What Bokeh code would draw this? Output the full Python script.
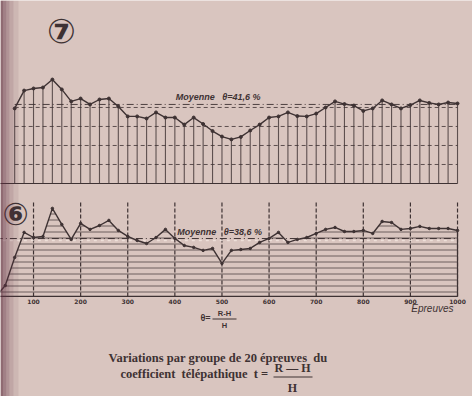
from bokeh.plotting import figure
from bokeh.models import Range1d, Label, BoxAnnotation
from bokeh.core.properties import value
from bokeh.embed import file_html
from bokeh.resources import INLINE

# ---------------- data ----------------
# Graph 7 : coefficient (%) per group of 20 trials
trials7 = list(range(60, 1001, 20))
theta7 = [39.5, 48.9, 50.0, 50.5, 54.7, 49.5, 43.2, 44.7, 41.6, 44.2, 44.7, 40.5,
          35.3, 35.3, 34.2, 37.4, 34.7, 34.7, 31.0, 34.7, 31.3, 27.6, 24.7, 23.2,
          24.5, 27.9, 31.0, 34.7, 35.3, 37.4, 35.5, 35.3, 36.8, 40.0, 43.2, 41.8,
          41.0, 38.2, 39.5, 43.7, 41.6, 39.5, 41.3, 43.7, 42.4, 41.6, 42.6, 42.1]
mean7 = 41.6
grid7 = [10, 20, 30, 40]

# Graph 6
trials6 = list(range(20, 1001, 20))
theta6 = [0.0, 7.3, 26.0, 42.7, 39.3, 40.0, 58.7, 48.0, 38.0, 48.7,
          44.7, 47.3, 50.7, 44.0, 40.0, 37.3, 35.3, 39.3, 44.7, 38.7,
          34.0, 32.7, 30.7, 32.0, 22.0, 30.7, 31.3, 32.0, 36.0, 38.7,
          42.7, 36.0, 38.0, 39.3, 42.0, 44.7, 46.0, 43.3, 43.3, 44.0,
          42.0, 50.0, 49.3, 44.7, 45.3, 46.7, 45.3, 45.3, 45.3, 44.0]
mean6 = 38.6
ticks6 = [100, 200, 300, 400, 500, 600, 700, 800, 900, 1000]
tick_labels6 = ["100", "200", "300", "400", "500", "600", "700", "800", "900", "1000"]
vline_top6 = 64

BG = "#d9c5bf"
INK = "#3e3233"
NB = "\u00a0"

p = figure(width=472, height=396, x_range=Range1d(29.9, 1031.8),
           y_range=Range1d(-112.1, 96.3), x_axis_type=None, y_axis_type=None,
           min_border=0, toolbar_location=None, output_backend="svg",
           background_fill_color=BG, border_fill_color=BG, outline_line_color=None)
p.extra_y_ranges = {"p6": Range1d(-66.7, 197.3)}
p.grid.visible = False

def mean_text(m):
    return "Moyenne" + NB * 3 + "θ=" + f"{m:.1f}".replace(".", ",") + NB + "%"

# ---------- graph 7 ----------
p.segment(x0=trials7, y0=0, x1=trials7, y1=theta7, line_color=INK, line_width=1.1, line_alpha=0.8)
p.segment(x0=[trials7[0]] * len(grid7), y0=grid7, x1=[trials7[-1]] * len(grid7), y1=grid7,
          line_color=INK, line_width=1, line_dash="4 3", line_alpha=0.8)
p.segment(x0=[trials6[0]], y0=[0], x1=[trials7[-1]], y1=[0], line_color=INK, line_width=1.2)
p.segment(x0=[trials7[0]], y0=[mean7], x1=[trials7[-1]], y1=[mean7], line_color=INK,
          line_width=1, line_dash="7 3 1 3", line_alpha=0.9)
p.line(trials7, theta7, line_color=INK, line_width=1.4)
p.scatter(trials7, theta7, size=3, color=INK)
p.text(x=[402], y=[mean7], text=[mean_text(mean7)],
       y_offset=-2, text_baseline="bottom", text_font=value("Liberation Sans"),
       text_font_style="bold italic", text_font_size="9px", text_color=INK)

# ---------- graph 6 ----------
p.varea(x=trials6, y1=[0] * len(trials6), y2=theta6, y_range_name="p6", fill_alpha=0,
        hatch_pattern="horizontal_line", hatch_scale=6, hatch_weight=1,
        hatch_color=INK, hatch_alpha=0.7)
p.segment(x0=ticks6, y0=0, x1=ticks6, y1=vline_top6, y_range_name="p6", line_color=INK,
          line_width=1.2, line_dash="4 2")
p.segment(x0=[trials6[-1]], y0=[0], x1=[trials6[-1]], y1=[theta6[-1]], y_range_name="p6",
          line_color=INK, line_width=1.2)
p.segment(x0=[trials6[0]], y0=[0], x1=[trials6[-1]], y1=[0], y_range_name="p6",
          line_color=INK, line_width=1.2)
p.segment(x0=[trials6[0]], y0=[mean6], x1=[trials6[-1]], y1=[mean6], y_range_name="p6",
          line_color=INK, line_width=1, line_dash="7 3 1 3")
p.segment(x0=[trials6[0]], y0=[mean6 - 1.3], x1=[trials6[-1]], y1=[mean6 - 1.3], y_range_name="p6",
          line_color="#f2e6e0", line_width=1.5, line_dash="3 4", line_alpha=0.8)
p.line(trials6, theta6, y_range_name="p6", line_color=INK, line_width=1.4)
p.scatter(trials6, theta6, y_range_name="p6", size=2.5, color=INK)
p.text(x=[405], y=[mean6], y_range_name="p6", text=[mean_text(mean6)],
       y_offset=-2, text_baseline="bottom", text_font=value("Liberation Sans"),
       text_font_style="bold italic", text_font_size="9px", text_color=INK)
p.text(x=ticks6, y=[0] * len(ticks6), text=tick_labels6, y_range_name="p6", y_offset=3,
       text_align="center", text_baseline="top", text_font=value("DejaVu Sans"),
       text_font_style="bold", text_font_size="6px", text_color=INK)
p.text(x=[trials6[-1]], y=[0], text=["Epreuves"], y_range_name="p6", y_offset=7, x_offset=-4,
       text_align="right", text_baseline="top", text_font=value("Liberation Sans"),
       text_font_style="italic", text_font_size="10px", text_color=INK)

# ---------- circled graph numbers ----------
for txt, sx, sy, fs in [("⑦", 61, 366, "34px"), ("⑥", 15, 183, "31px")]:
    p.add_layout(Label(x=sx, y=sy, x_units="screen", y_units="screen", text=txt,
                       text_align="center", text_baseline="middle", text_font="DejaVu Sans",
                       text_font_style="bold", text_font_size=fs, text_color=INK))

# ---------- formula under graph 6 ----------
def lab(t, x, y, size, style="normal", font="Liberation Serif", align="center"):
    p.add_layout(Label(x=x, y=y, x_units="screen", y_units="screen", text=t,
                       text_align=align, text_baseline="middle", text_font=font,
                       text_font_style=style, text_font_size=size, text_color=INK))

def bar(x0, x1, y, w=1):
    p.add_layout(BoxAnnotation(left=x0, right=x1, bottom=y, top=y + w, left_units="screen",
                               right_units="screen", bottom_units="screen", top_units="screen",
                               fill_color=INK, fill_alpha=1, line_color=None))

lab("θ=", 205, 79, "9px", "bold", "Liberation Sans")
lab("R-H", 224, 83, "7.5px", "bold", "Liberation Sans")
bar(212, 236, 77)
lab("H", 224, 71, "7.5px", "bold", "Liberation Sans")

# ---------- caption ----------
lab("Variations par groupe de 20 épreuves" + NB * 2 + "du", 108, 39, "12.5px", "bold", align="left")
lab("coefficient" + NB * 2 + "télépathique" + NB * 2 + "t =", 120, 23, "12.5px", "bold", align="left")
lab("R — H", 292, 29, "12px", "bold")
bar(273, 312, 19)
lab("H", 292, 9, "12px", "bold")

# ---------- book gutter shading ----------
for x0, x1, a in [(0, 3, 0.6), (3, 6, 0.45), (6, 9, 0.32), (9, 13, 0.2), (13, 18, 0.09)]:
    p.add_layout(BoxAnnotation(left=x0, right=x1, left_units="screen", right_units="screen",
                               fill_color="#5e2d40", fill_alpha=a, line_color=None))

open("out.html", "w").write(file_html(p, INLINE))
